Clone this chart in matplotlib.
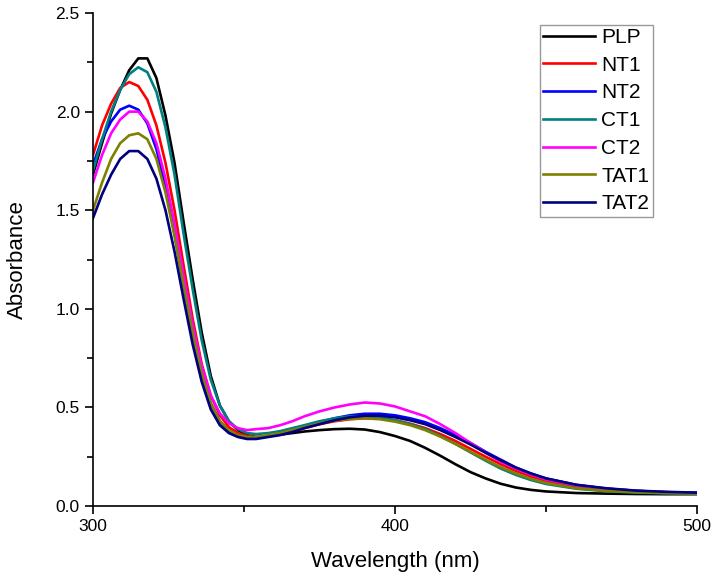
import numpy as np
import matplotlib
matplotlib.use('Agg')
import matplotlib.pyplot as plt
from matplotlib.ticker import MultipleLocator

plt.rcParams['font.family'] = ['Liberation Sans', 'DejaVu Sans']

# Wavelength grid (nm)
wl = [300, 303, 306, 309, 312, 315, 318, 321, 324, 327, 330, 333, 336, 339, 342,
      345, 348, 351, 354, 358, 362, 366, 370, 375, 380, 385, 390, 395, 400, 405,
      410, 415, 420, 425, 430, 435, 440, 445, 450, 460, 470, 480, 490, 500]

# Absorbance
plp = [1.68, 1.84, 1.99, 2.11, 2.21, 2.27, 2.27, 2.17, 1.98, 1.74, 1.44, 1.15, 0.88, 0.66, 0.51,
       0.43, 0.385, 0.36, 0.35, 0.355, 0.362, 0.37, 0.378, 0.385, 0.39, 0.392, 0.388, 0.375, 0.355, 0.33,
       0.295, 0.255, 0.212, 0.172, 0.14, 0.113, 0.094, 0.082, 0.074, 0.066, 0.063, 0.061, 0.06, 0.06]
nt1 = [1.78, 1.93, 2.04, 2.12, 2.15, 2.13, 2.06, 1.93, 1.74, 1.50, 1.22, 0.95, 0.72, 0.56, 0.46,
       0.40, 0.37, 0.355, 0.35, 0.355, 0.365, 0.38, 0.395, 0.415, 0.43, 0.44, 0.445, 0.443, 0.435, 0.418,
       0.395, 0.365, 0.33, 0.29, 0.25, 0.212, 0.178, 0.15, 0.127, 0.098, 0.082, 0.072, 0.067, 0.063]
nt2 = [1.73, 1.86, 1.95, 2.01, 2.03, 2.01, 1.94, 1.81, 1.62, 1.38, 1.12, 0.88, 0.67, 0.52, 0.43,
       0.38, 0.355, 0.345, 0.345, 0.355, 0.37, 0.385, 0.405, 0.425, 0.445, 0.46, 0.468, 0.468, 0.46, 0.445,
       0.425, 0.395, 0.36, 0.32, 0.275, 0.235, 0.195, 0.165, 0.14, 0.107, 0.088, 0.077, 0.07, 0.067]
ct1 = [1.70, 1.86, 2.00, 2.11, 2.19, 2.225, 2.20, 2.10, 1.92, 1.68, 1.38, 1.10, 0.84, 0.64, 0.51,
       0.43, 0.39, 0.37, 0.365, 0.37, 0.38, 0.395, 0.41, 0.43, 0.445, 0.455, 0.455, 0.45, 0.435, 0.415,
       0.39, 0.355, 0.315, 0.272, 0.23, 0.19, 0.158, 0.132, 0.112, 0.088, 0.075, 0.068, 0.065, 0.063]
ct2 = [1.64, 1.78, 1.89, 1.96, 2.00, 2.00, 1.95, 1.84, 1.66, 1.43, 1.17, 0.92, 0.71, 0.56, 0.47,
       0.42, 0.395, 0.385, 0.39, 0.395, 0.41, 0.43, 0.455, 0.48, 0.50, 0.515, 0.525, 0.52, 0.505, 0.48,
       0.455, 0.415, 0.37, 0.32, 0.27, 0.225, 0.19, 0.16, 0.135, 0.105, 0.088, 0.077, 0.07, 0.067]
tat1 = [1.50, 1.64, 1.76, 1.84, 1.88, 1.89, 1.86, 1.76, 1.59, 1.37, 1.12, 0.88, 0.67, 0.52, 0.43,
        0.385, 0.36, 0.35, 0.35, 0.36, 0.37, 0.385, 0.40, 0.42, 0.433, 0.442, 0.445, 0.44, 0.428, 0.41,
        0.385, 0.352, 0.315, 0.275, 0.235, 0.197, 0.165, 0.138, 0.117, 0.09, 0.077, 0.07, 0.066, 0.064]
tat2 = [1.46, 1.58, 1.68, 1.76, 1.80, 1.80, 1.76, 1.66, 1.50, 1.29, 1.05, 0.82, 0.63, 0.49, 0.41,
        0.37, 0.35, 0.34, 0.34, 0.35, 0.36, 0.375, 0.395, 0.415, 0.435, 0.45, 0.458, 0.458, 0.45, 0.435,
        0.415, 0.385, 0.35, 0.312, 0.27, 0.232, 0.195, 0.165, 0.14, 0.108, 0.09, 0.078, 0.072, 0.068]

labels = ['PLP', 'NT1', 'NT2', 'CT1', 'CT2', 'TAT1', 'TAT2']
colors = ['#000000', '#ff0000', '#0000ff', '#008080', '#ff00ff', '#808000', '#000080']
series = [plp, nt1, nt2, ct1, ct2, tat1, tat2]

fig = plt.figure(figsize=(7.12, 5.79), dpi=100)
ax = fig.add_axes([0.1306, 0.126, 0.8484, 0.8515])

for y, c, lab in zip(series, colors, labels):
    ax.plot(wl, y, color=c, lw=1.9, label=lab)

ax.set_xlim(300, 500)
ax.set_ylim(0, 2.5)
ax.xaxis.set_major_locator(MultipleLocator(100))
ax.xaxis.set_minor_locator(MultipleLocator(50))
ax.yaxis.set_major_locator(MultipleLocator(0.5))
ax.yaxis.set_minor_locator(MultipleLocator(0.25))
ax.yaxis.set_major_formatter(plt.FormatStrFormatter('%.1f'))

for s in ['top', 'right']:
    ax.spines[s].set_visible(False)
for s in ['left', 'bottom']:
    ax.spines[s].set_linewidth(1.2)
ax.tick_params(which='major', direction='out', length=6, width=1.2, labelsize=12.5)
ax.tick_params(which='minor', direction='out', length=4, width=1.2)

ax.set_xlabel('Wavelength (nm)', fontsize=16, labelpad=12)
ax.set_ylabel('Absorbance', fontsize=16, labelpad=20)

leg = ax.legend(loc='upper left', bbox_to_anchor=(0.74, 0.976), fontsize=15,
                frameon=True, fancybox=False, edgecolor='#808080', handlelength=2.5,
                handletextpad=0.3, labelspacing=0.42, borderpad=0.15, borderaxespad=0)
leg.get_frame().set_linewidth(1.0)

fig.savefig('out.png', dpi=100)
